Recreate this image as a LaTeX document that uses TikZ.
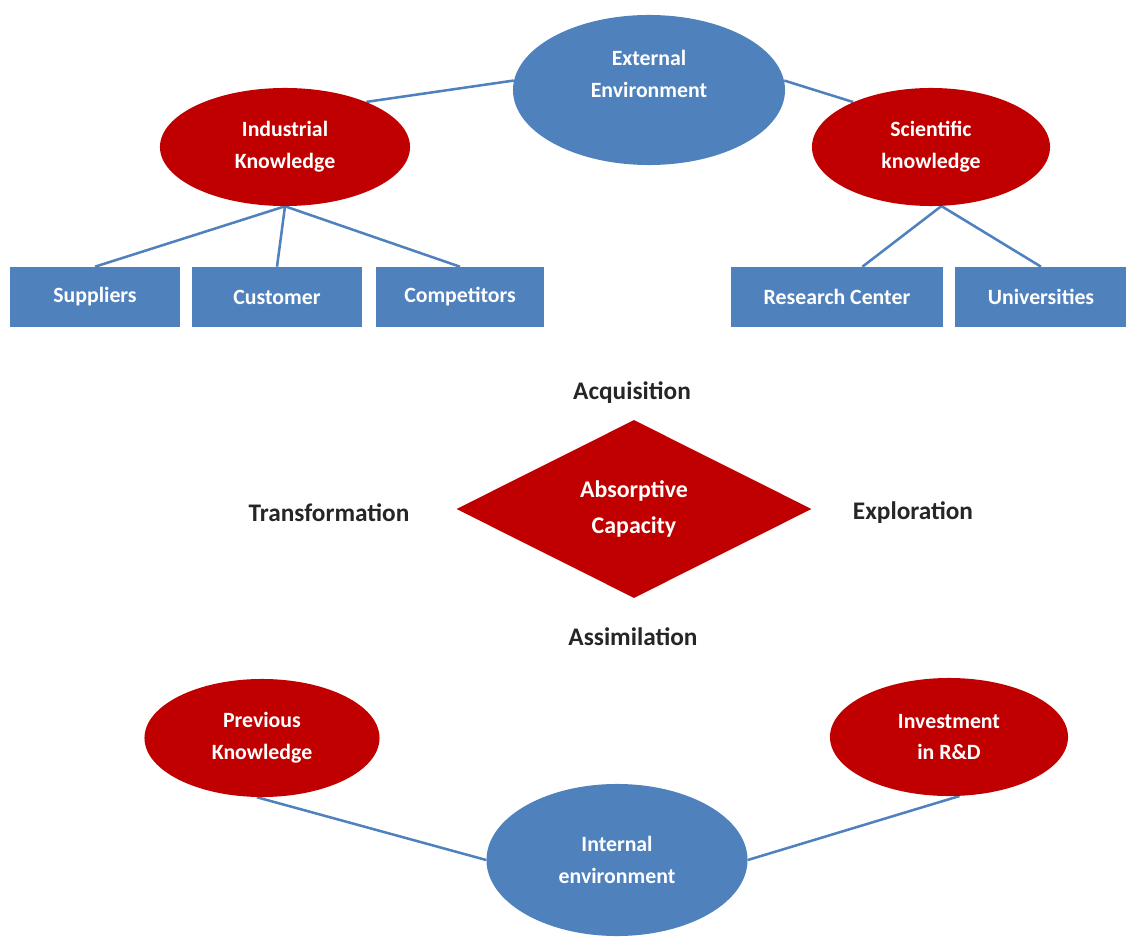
\documentclass[tikz,border=0pt]{standalone}
\usepackage{fontspec}
\setmainfont{Carlito}
\usepackage{tikz}
\usetikzlibrary{shapes.geometric,backgrounds}
\definecolor{accblue}{RGB}{79,129,189}
\definecolor{accred}{RGB}{192,0,0}
\tikzset{
	env/.style={ellipse,fill=accblue,text=white,align=center,inner sep=0pt},
	know/.style={ellipse,fill=accred,text=white,align=center,inner sep=0pt,minimum height=2.95cm},
	source/.style={rectangle,fill=accblue,text=white,inner sep=0pt,minimum height=1.5cm},
	phase/.style={text=black!85,font=\fontsize{18pt}{22pt}\selectfont\bfseries},
	link/.style={draw=accblue,line width=1.8pt}
}

\begin{document}
\begin{tikzpicture}[x=0.025cm,y=-0.025cm,font=\fontsize{15.5pt}{22.5pt}\selectfont\bfseries]
	\useasboundingbox (0,0) rectangle (1126,938);
	% external side
	\node[env,minimum width=6.8cm,minimum height=3.75cm,text depth=0.8cm] (ext) at (649,90) {External\\Environment};
	\node[know,minimum width=6.25cm] (ind) at (285,147) {Industrial\\Knowledge};
	\node[know,minimum width=5.95cm] (sci) at (931,147) {Scientific\\knowledge};
	\node[source,minimum width=4.25cm] (sup) at (95,297) {Suppliers};
	\node[source,minimum width=4.225cm] (cus) at (277,297) {Customer};
	\node[source,minimum width=4.2cm] (com) at (460,297) {Competitors};
	\node[source,minimum width=5.275cm] (res) at (837,297) {Research Center};
	\node[source,minimum width=4.275cm] (uni) at (1041,297) {Universities};
	% absorptive capacity
	\node[diamond,fill=accred,text=white,align=center,inner sep=0pt,
		font=\fontsize{17pt}{25pt}\selectfont\bfseries,
		minimum width=8.875cm,minimum height=4.45cm] (acap) at (634,509) {Absorptive\\Capacity};
	\node[phase] (acq) at (632,393) {Acquisition};
	\node[phase] (trf) at (329,513) {Transformation};
	\node[phase] (exp) at (913,513) {Exploration};
	\node[phase] (asm) at (633,637) {Assimilation};
	% internal side
	\node[know,minimum width=5.875cm] (prev) at (262,738) {Previous\\Knowledge};
	\node[know,minimum width=5.95cm] (inv) at (949,737) {Investment\\in R\&D};
	\node[env,minimum width=6.525cm,minimum height=3.8cm] (int) at (617,860) {Internal\\environment};
	\begin{pgfonlayer}{background}
		\path[link]
		(ind.29) edge (ext.176)
		(ext.4) edge (sci.150)
		(ind.south) edge (sup.north)
		(ind.south) edge (cus.north)
		(ind.south) edge (com.north)
		(sci.-80) edge (res.50)
		(sci.-80) edge (uni.north)
		(prev.265) edge (int.west)
		(inv.-80) edge (int.east);
	\end{pgfonlayer}
\end{tikzpicture}
\end{document}
